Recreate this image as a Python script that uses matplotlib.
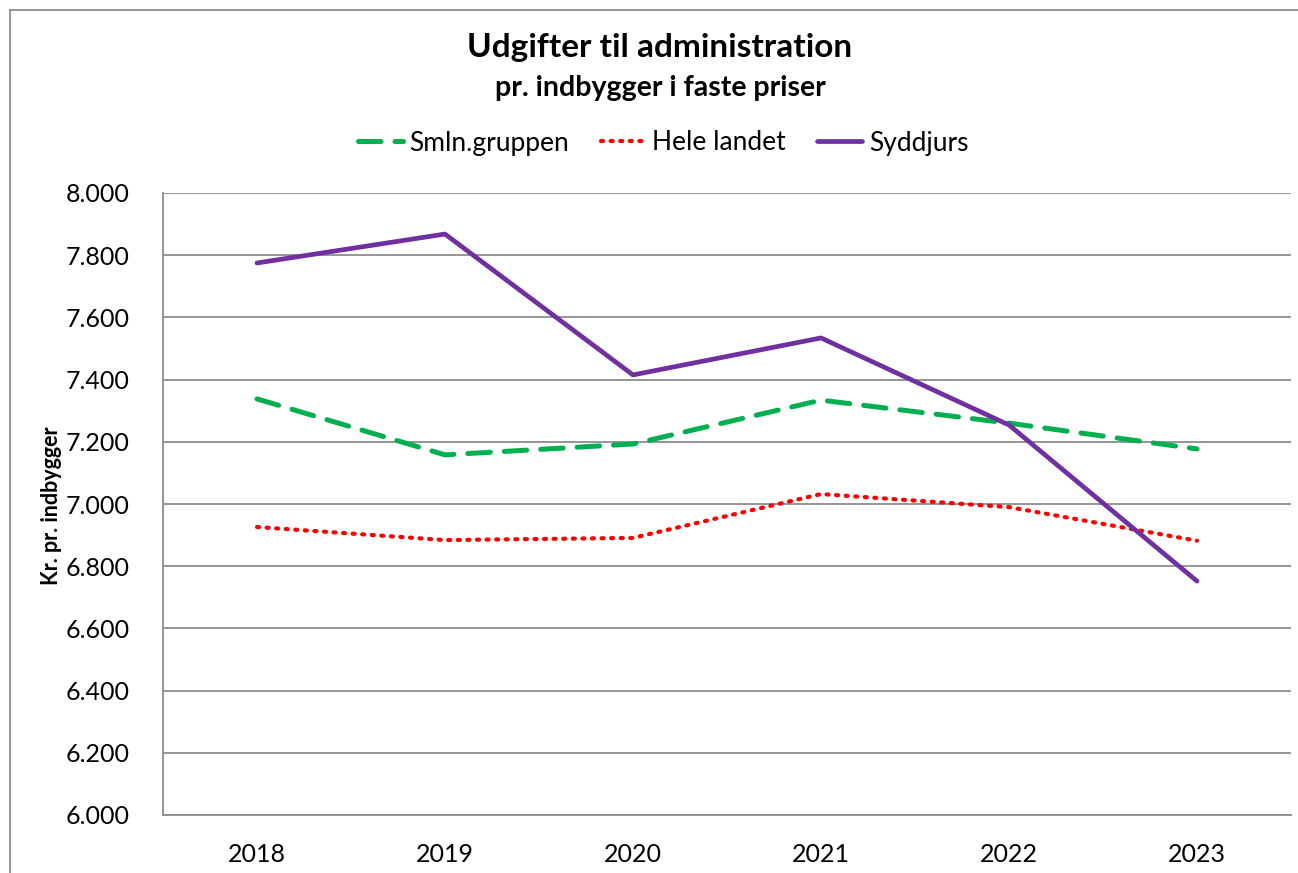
import matplotlib
matplotlib.use("Agg")
import matplotlib.pyplot as plt
from matplotlib.lines import Line2D
from matplotlib.ticker import FuncFormatter

years = ["2018", "2019", "2020", "2021", "2022", "2023"]
smln = [7338, 7158, 7193, 7334, 7260, 7177]
hele = [6926, 6884, 6891, 7032, 6990, 6882]
syddjurs = [7775, 7868, 7415, 7534, 7254, 6752]

plt.rcParams['font.family'] = ['Lato', 'DejaVu Sans']

fig = plt.figure(figsize=(12.98, 8.73), dpi=100)
ax = fig.add_axes([163/1298, 58/873, (1291-163)/1298, (815-193)/873])

x = list(range(len(years)))
ax.plot(x, smln, color="#00B050", lw=3.6, ls=(0, (4.5, 2.8)), label="Smln.gruppen", dash_capstyle='round')
ax.plot(x, hele, color="#FF0000", lw=3.0, ls=(0, (0.5, 1.8)), label="Hele landet", dash_capstyle='round')
ax.plot(x, syddjurs, color="#7030A0", lw=3.4, label="Syddjurs", solid_capstyle='round')

ax.set_xlim(-0.5, len(years) - 0.5)
ax.set_ylim(6000, 8000)
ax.set_yticks(range(6000, 8001, 200))
ax.yaxis.set_major_formatter(FuncFormatter(lambda v, p: f"{int(v):,}".replace(",", ".")))
ax.set_xticks(x)
ax.set_xticklabels(years)
ax.grid(axis='y', color="#8c8c8c", lw=1.3)
ax.set_axisbelow(True)
for s in ["top", "right"]:
    ax.spines[s].set_visible(False)
for s in ["left", "bottom"]:
    ax.spines[s].set_color("#8c8c8c")
    ax.spines[s].set_linewidth(1.3)
ax.tick_params(axis='both', length=0, labelsize=18)
ax.tick_params(axis='y', pad=24)
ax.tick_params(axis='x', pad=20)

fig.text(52/1298, 1 - 506/873, "Kr. pr. indbygger", rotation=90, ha='center', va='center',
         fontsize=15.5, fontweight='bold')

fig.text(660/1298, 1 - 47/873, "Udgifter til administration", ha='center', va='center', fontsize=24, fontweight='bold')
fig.text(660/1298, 1 - 88/873, "pr. indbygger i faste priser", ha='center', va='center', fontsize=20.5, fontweight='bold')

fig.legend(loc='center', bbox_to_anchor=(663/1298, 1 - 143/873), ncol=3, frameon=False,
           fontsize=19, handlelength=1.7, columnspacing=1.2, handletextpad=0.25)

# outer chart border (left and top visible)
fig.add_artist(Line2D([10/1298, 10/1298], [0, 1 - 10/873], transform=fig.transFigure, color="#8c8c8c", lw=1.3))
fig.add_artist(Line2D([10/1298, 1], [1 - 10/873, 1 - 10/873], transform=fig.transFigure, color="#8c8c8c", lw=1.3))

fig.savefig("out.png", dpi=100)
